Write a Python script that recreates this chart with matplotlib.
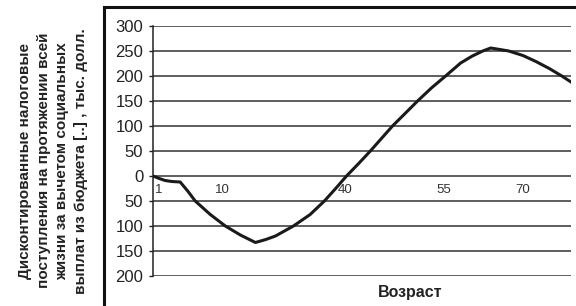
import matplotlib
matplotlib.use("Agg")
import matplotlib.pyplot as plt
from matplotlib.lines import Line2D

# position along the age axis (0..100, axis is not linear in years)
pos = [0, 1.5, 2.9, 4.5, 6.5, 8.3, 10.1, 13.7, 17.3, 20.9, 24.5, 27.0, 29.3,
       33.6, 37.6, 41.0, 43.7, 46.3, 49.2, 52.0, 57.3, 63.3, 66.6, 70.0,
       73.6, 76.4, 78.9, 80.8, 83.0, 85.1, 88.5, 91.6, 94.8, 97.8, 100]
# discounted net tax revenue, thousand $
value = [0, -5, -9, -11, -12, -30, -50, -77, -100, -118, -133, -127, -120,
         -100, -77, -50, -25, 0, 25, 50, 100, 150, 176, 200,
         226, 240, 250, 256, 253, 250, 241, 229, 215, 200, 188]

age_pos = [1.4, 16.5, 46.0, 69.5, 88.5]
age_labels = ["1", "10", "40", "55", "70"]

y_ticks = [300, 250, 200, 150, 100, 50, 0, -50, -100, -150, -200]
y_labels = [str(abs(v)) for v in y_ticks]

plt.rcParams["font.family"] = ["Liberation Sans", "DejaVu Sans"]

fig = plt.figure(figsize=(5.76, 3.06), dpi=100)
ax = fig.add_axes([153 / 576, 1 - 276 / 306, (571 - 153) / 576, 250 / 306])

ax.plot(pos, value, color="#1a1a1a", lw=2.2, solid_joinstyle="round", zorder=3)

ax.set_xlim(0, 100)
ax.set_ylim(-200, 300)
ax.set_yticks(y_ticks)
ax.set_yticklabels(y_labels, fontsize=12)
ax.set_xticks([])
for y in y_ticks:
    ax.axhline(y, color="#333333", lw=1.1, zorder=1)

for s in ["top", "right", "bottom"]:
    ax.spines[s].set_visible(False)
ax.spines["left"].set_color("#222222")
ax.spines["left"].set_linewidth(1.1)
ax.tick_params(axis="y", length=3, width=1, pad=4, colors="#222222")

for p, lab in zip(age_pos, age_labels):
    ax.text(p, -28, lab, ha="center", va="center", fontsize=9.5, color="#333333")

ax.text(0.615, -0.065, "Возраст", transform=ax.transAxes, ha="center",
        va="center", fontsize=11.5, fontweight="bold", color="#222222")

fig.text(53 / 576, 0.475,
         "Дисконтированные налоговые\nпоступления на протяжении всей\n"
         "жизни за вычетом социальных\nвыплат из бюджета [..] , тыс. долл.",
         rotation=90, ha="center", va="center", fontsize=11,
         fontweight="bold", linespacing=1.45, color="#222222")

# outer frame
fig.add_artist(Line2D([104 / 576, 104 / 576], [0, 1 - 7 / 306],
                      transform=fig.transFigure, color="#111111", lw=2.2))
fig.add_artist(Line2D([104 / 576, 1], [1 - 7 / 306, 1 - 7 / 306],
                      transform=fig.transFigure, color="#111111", lw=2.2))

fig.savefig("out.png", dpi=100)
